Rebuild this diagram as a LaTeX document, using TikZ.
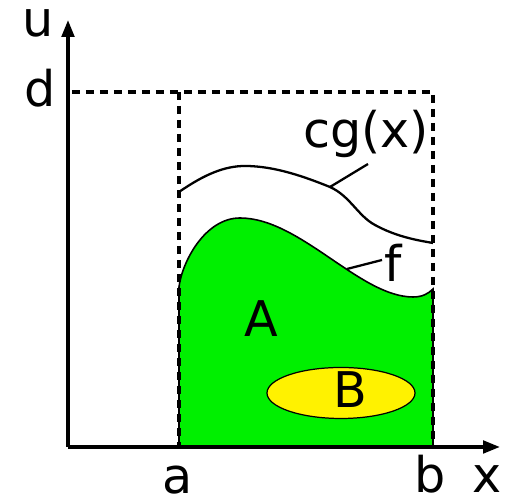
\documentclass[tikz,border=0pt]{standalone}
\usepackage{fontspec}
\setmainfont{DejaVu Sans}
\usepackage{tikz}
\usetikzlibrary{arrows.meta}
\definecolor{areagreen}{RGB}{0,240,0}
\definecolor{areayellow}{RGB}{255,242,0}

\begin{document}
\begin{tikzpicture}[
  x=0.02cm, y=0.02cm,
  axis/.style={line width=2pt, -{Triangle[length=0.34cm, width=0.25cm]}},
  bound/.style={line width=2pt, dash pattern=on 0.16cm off 0.12cm},
  curve/.style={line width=1.3pt},
  leader/.style={line width=1.3pt},
  lbl/.style={font=\fontsize{28}{32}\selectfont, anchor=base, inner sep=0pt},
]
\useasboundingbox (0,0) rectangle (505,502);

%% Axes points
\coordinate (O) at (68,55);
\coordinate (utip) at (68,482);
\coordinate (xtip) at (500,55);

%% Area A under f
\filldraw[fill=areagreen, draw=black, line width=0.9pt]
  (179,55) -- (179,215)
  .. controls (182,240) and (205,284) .. (240,284)
  .. controls (300,284) and (360,205) .. (413,205)
  .. controls (422,205) and (428,208) .. (433,213)
  -- (433,55) -- cycle;

%% Region B
\filldraw[fill=areayellow, draw=black, line width=0.7pt] (341,109) ellipse (74 and 25.5);

%% Envelope cg(x)
\draw[curve] (179,310) .. controls (205,328) and (225,336) .. (245,336)
  .. controls (275,336) and (305,325) .. (330,315)
  .. controls (350,306) and (358,286) .. (375,277)
  .. controls (395,266) and (415,262) .. (433,259);

%% Bounding box [a,b] x [0,d]
\draw[bound] (72,410) -- (433,410) -- (433,55);
\draw[bound] (179,410) -- (179,55);

%% Axes
\draw[axis] (O) -- (utip);
\draw[axis] (O) -- (xtip);

%% Labels
\node[lbl] (u) at (38,465) {u};
\node[lbl] (d) at (40,395) {d};
\node[lbl] (a) at (178,8) {a};
\node[lbl] (b) at (430,9) {b};
\node[lbl] (x) at (487,9) {x};
\node[lbl] (cg) at (366,354) {cg(x)};
\node[lbl] (f) at (393,220) {f};
\node[lbl] (A) at (261,165) {A};
\node[lbl] (B) at (350,94) {B};

%% Leader lines
\coordinate (cgpt) at (330,315);
\coordinate (fpt) at (347,233);
\draw[leader] (cgpt) -- (368,338);
\draw[leader] (fpt) -- (382,242);

\end{tikzpicture}
\end{document}
